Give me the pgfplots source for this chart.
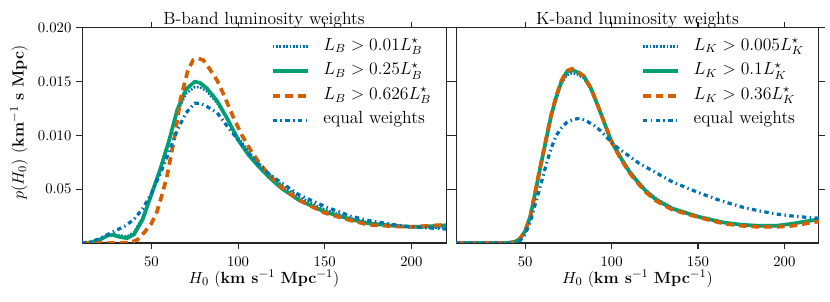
\documentclass[border=0pt]{standalone}
\usepackage{pgfplots}
\pgfplotsset{compat=1.18}
\definecolor{cblue}{HTML}{0072B2}
\definecolor{cgreen}{HTML}{009E73}
\definecolor{corange}{HTML}{D55E00}
\definecolor{axgray}{HTML}{262626}

\pgfplotsset{
  myaxis/.style={
    scale only axis,
    width=247.6pt, height=146.3pt,
    anchor=south west,
    xmin=10, xmax=220, ymin=0, ymax=0.02,
    xtick={50,100,150,200},
    ytick={0.005,0.01,0.015,0.02},
    scaled y ticks=false,
    tick align=outside,
    major tick length=4pt,
    axis line style={axgray, line width=0.7pt},
    every tick/.style={axgray, line width=0.7pt},
    tick label style={font=\fontsize{10}{12}\selectfont},
    xticklabel style={anchor=base, yshift=-12.3pt, inner sep=0pt},
    yticklabel style={anchor=east, xshift=-3pt, inner sep=0pt},
    title style={at={(0.5,1)}, anchor=base, yshift=-4pt, inner sep=0pt, font=\fontsize{12}{14}\selectfont},
    xlabel style={at={(0.5,0)}, anchor=base, yshift=-27.5pt, inner sep=0pt, font=\fontsize{11}{13}\selectfont},
    ylabel style={font=\fontsize{11}{13}\selectfont},
    legend cell align=left,
    legend style={draw=none, fill=none, at={(1,1)}, anchor=north east,
      xshift=-9pt, yshift=-6pt, inner sep=0pt, row sep=3.7pt, column sep=8.5pt,
      nodes={text height=8pt, text depth=3pt, inner sep=1pt},
      font=\fontsize{12}{14}\selectfont},
    legend image code/.code={\draw[#1] (0pt,0pt) -- (23.8pt,0pt);},
  },
  dotb/.style={cblue, line width=1.7pt, dash pattern=on 1.2pt off 1.1pt},
  solg/.style={cgreen, line width=2.5pt},
  dasho/.style={corange, line width=2.5pt, dash pattern=on 5.2pt off 3.4pt},
  dashdotb/.style={cblue, line width=2.2pt, dash pattern=on 3pt off 2.3pt on 1pt off 2.3pt},
}

\begin{document}
\begin{tikzpicture}
\path[use as bounding box] (0,0) rectangle (564.6pt,205.4pt);

\begin{axis}[myaxis, at={(55.8pt,40.1pt)},
  title={B-band luminosity weights},
  xlabel={$H_0$ (\textbf{km s}$^{-1}$ \textbf{Mpc}$^{-1}$)},
  ylabel={$p(H_0)$ (\textbf{km}$^{-1}$ \textbf{s Mpc})},
  ylabel style={at={(-0.173,0.56)}, anchor=center, rotate=0},
  yticklabels={0.05,0.010,0.015,0.020},
]
\addplot[dotb] coordinates {
(10,0) (15,0.0001) (20,0.0003) (25,0.0007) (28,0.0008) (32,0.0007) (36,0.0006) (40,0.0010)
(45,0.0024) (50,0.0046) (55,0.0069) (60,0.0095) (65,0.0122) (70,0.0139) (75,0.0145)
(78,0.0145) (82,0.0141) (88,0.0130) (94,0.0115) (100,0.0098) (106,0.0085) (112,0.0074)
(118,0.0064) (125,0.0054) (135,0.0043) (150,0.0031) (165,0.0023) (175,0.0019) (190,0.0016)
(200,0.0015) (210,0.0014) (220,0.0014)};
\addlegendentry{$L_B > 0.01L_B^{\star}$}
\addplot[solg] coordinates {
(10,0) (15,0.00005) (20,0.0003) (25,0.0007) (28,0.00075) (32,0.00055) (36,0.00045) (40,0.0008)
(45,0.0022) (50,0.0045) (55,0.0068) (60,0.0094) (65,0.0124) (70,0.0143) (75,0.0150)
(78,0.0149) (82,0.0144) (88,0.0132) (94,0.0115) (100,0.0096) (106,0.0082) (112,0.0071)
(118,0.0061) (125,0.0051) (135,0.0040) (150,0.0029) (165,0.0022) (175,0.00183) (190,0.0016)
(200,0.0015) (210,0.00155) (220,0.00165)};
\addlegendentry{$L_B > 0.25L_B^{\star}$}
\addplot[dasho] coordinates {
(10,0) (20,0) (30,0) (38,0.00005) (42,0.0003) (46,0.0010) (50,0.0018) (53,0.0028) (56,0.0044)
(59,0.0062) (63,0.0095) (67,0.0135) (71,0.0160) (74,0.0170) (77,0.01718) (80,0.0170)
(84,0.0161) (88,0.0151) (92,0.0137) (97,0.0118) (102,0.0101) (107,0.0087) (112,0.0075)
(117,0.0065) (125,0.0052) (135,0.0040) (150,0.0028) (165,0.0021) (175,0.0017) (190,0.00155)
(200,0.0015) (210,0.0016) (220,0.0017)};
\addlegendentry{$L_B > 0.626L_B^{\star}$}
\addplot[dashdotb] coordinates {
(10,0) (15,0.0001) (20,0.0004) (25,0.0008) (30,0.0012) (35,0.0016) (40,0.0022) (45,0.0032)
(50,0.0046) (55,0.0064) (60,0.0084) (65,0.0105) (70,0.0121) (75,0.0130) (78,0.0130)
(82,0.0127) (88,0.0121) (94,0.0108) (100,0.0096) (106,0.0084) (112,0.0073) (118,0.0064)
(126,0.0055) (135,0.0045) (150,0.0034) (165,0.0025) (175,0.0021) (190,0.0017) (200,0.0015)
(210,0.0014) (220,0.0013)};
\addlegendentry{equal weights}
\end{axis}

\begin{axis}[myaxis, at={(310.2pt,40.1pt)}, width=246.9pt,
  title={K-band luminosity weights},
  xlabel={$H_0$ (\textbf{km s}$^{-1}$ \textbf{Mpc}$^{-1}$)},
  yticklabels={},
]
\addplot[dotb] coordinates {
(10,0) (40,0) (44,0.0001) (47,0.0004) (50,0.0011) (53,0.0025) (56,0.0048) (59,0.0072)
(62,0.0095) (65,0.0117) (68,0.0134) (71,0.0148) (74,0.0156) (77,0.0158) (80,0.0157)
(84,0.0153) (88,0.0143) (92,0.0128) (96,0.0111) (100,0.0095) (105,0.0081) (110,0.0068)
(115,0.0058) (120,0.0049) (126,0.0041) (135,0.0033) (150,0.0025) (165,0.0019) (175,0.0017)
(185,0.0016) (195,0.0016) (205,0.0018) (212,0.0020) (220,0.0022)};
\addlegendentry{$L_K > 0.005L_K^{\star}$}
\addplot[solg] coordinates {
(10,0) (40,0) (44,0.0001) (47,0.0004) (50,0.0011) (53,0.0025) (56,0.0048) (59,0.0072)
(62,0.0095) (65,0.0118) (68,0.0136) (71,0.0150) (74,0.0159) (77,0.0161) (80,0.0159)
(84,0.0155) (88,0.0144) (92,0.0128) (96,0.0111) (100,0.0094) (105,0.0080) (110,0.0067)
(115,0.0057) (120,0.0048) (126,0.0040) (135,0.0032) (150,0.00245) (165,0.0019) (175,0.0017)
(185,0.0016) (195,0.0016) (205,0.0018) (212,0.0020) (220,0.0022)};
\addlegendentry{$L_K > 0.1L_K^{\star}$}
\addplot[dasho] coordinates {
(10,0) (40,0) (44,0.0001) (47,0.0004) (50,0.0011) (53,0.0025) (56,0.0049) (59,0.0073)
(62,0.0096) (65,0.0119) (68,0.0137) (71,0.0151) (74,0.0160) (77,0.0162) (80,0.0160)
(84,0.0155) (88,0.0144) (92,0.0128) (96,0.0111) (100,0.0094) (105,0.0079) (110,0.0066)
(115,0.0056) (120,0.0047) (126,0.0039) (135,0.0031) (150,0.0024) (165,0.0018) (175,0.0016)
(185,0.0015) (195,0.0015) (205,0.0016) (212,0.0018) (220,0.0020)};
\addlegendentry{$L_K > 0.36L_K^{\star}$}
\addplot[dashdotb] coordinates {
(10,0) (44,0) (47,0.0002) (50,0.0008) (53,0.0020) (56,0.0037) (59,0.0054) (62,0.0072)
(65,0.0088) (68,0.0100) (71,0.0107) (74,0.0112) (78,0.0115) (82,0.0116) (86,0.0113)
(90,0.0109) (94,0.0104) (98,0.0097) (103,0.0089) (110,0.0081) (116,0.0074) (125,0.0066)
(135,0.0057) (150,0.0047) (162,0.0040) (174,0.0034) (185,0.0030) (195,0.0027) (205,0.0025)
(212,0.0024) (220,0.0023)};
\addlegendentry{equal weights}
\end{axis}
\end{tikzpicture}
\end{document}
